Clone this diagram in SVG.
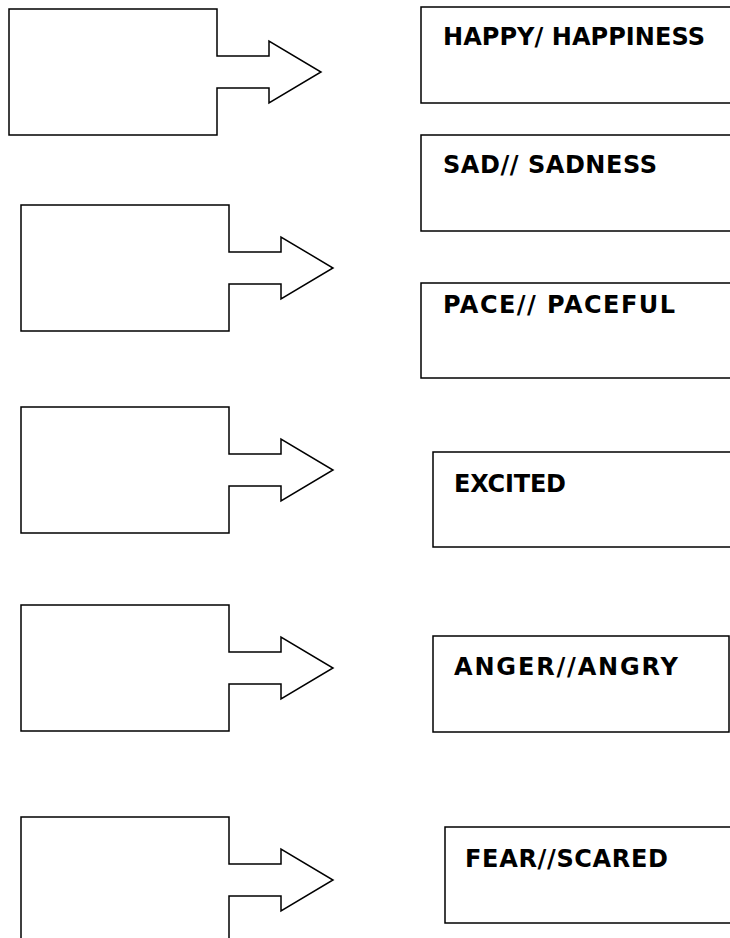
<svg xmlns="http://www.w3.org/2000/svg" width="730" height="938" viewBox="0 0 730 938">
<defs>
<style>
.shape{fill:#ffffff;stroke:#000000;stroke-width:1.5;stroke-linejoin:miter}
.lbl{font-family:"DejaVu Sans","Liberation Sans",sans-serif;font-weight:bold;font-size:24px;fill:#000000}
</style>
<path id="arrowShape" d="M0,0 H208 V47 H260 V32 L312,63 L260,94 V79 H208 V126 H0 Z"/>
</defs>
<rect width="730" height="938" fill="#ffffff"/>
<g id="connectors">
<g id="arrow1"><use href="#arrowShape" class="shape" transform="translate(9,9)"/></g>
<g id="arrow2"><use href="#arrowShape" class="shape" transform="translate(21,205)"/></g>
<g id="arrow3"><use href="#arrowShape" class="shape" transform="translate(21,407)"/></g>
<g id="arrow4"><use href="#arrowShape" class="shape" transform="translate(21,605)"/></g>
<g id="arrow5"><path class="shape" d="M21,960 V817 H229 V864 H281 V849 L333,880 L281,911 V896 H229 V960"/></g>
</g>
<g id="node-happy">
<rect class="shape" x="421" y="7" width="330" height="96"/>
<text class="lbl" x="443" y="45" textLength="262" lengthAdjust="spacing">HAPPY/ HAPPINESS</text>
</g>
<g id="node-sad">
<rect class="shape" x="421" y="135" width="330" height="96"/>
<text class="lbl" x="443" y="173" textLength="214" lengthAdjust="spacing">SAD// SADNESS</text>
</g>
<g id="node-pace">
<rect class="shape" x="421" y="283" width="330" height="95"/>
<text class="lbl" x="443" y="313" textLength="232" lengthAdjust="spacing">PACE// PACEFUL</text>
</g>
<g id="node-excited">
<rect class="shape" x="433" y="452" width="320" height="95"/>
<text class="lbl" x="454" y="492" textLength="112" lengthAdjust="spacing">EXCITED</text>
</g>
<g id="node-anger">
<rect class="shape" x="433" y="636" width="296" height="96"/>
<text class="lbl" x="454" y="675" textLength="224" lengthAdjust="spacing">ANGER//ANGRY</text>
</g>
<g id="node-fear">
<rect class="shape" x="445" y="827" width="310" height="96"/>
<text class="lbl" x="465" y="867" textLength="203" lengthAdjust="spacing">FEAR//SCARED</text>
</g>
</svg>
